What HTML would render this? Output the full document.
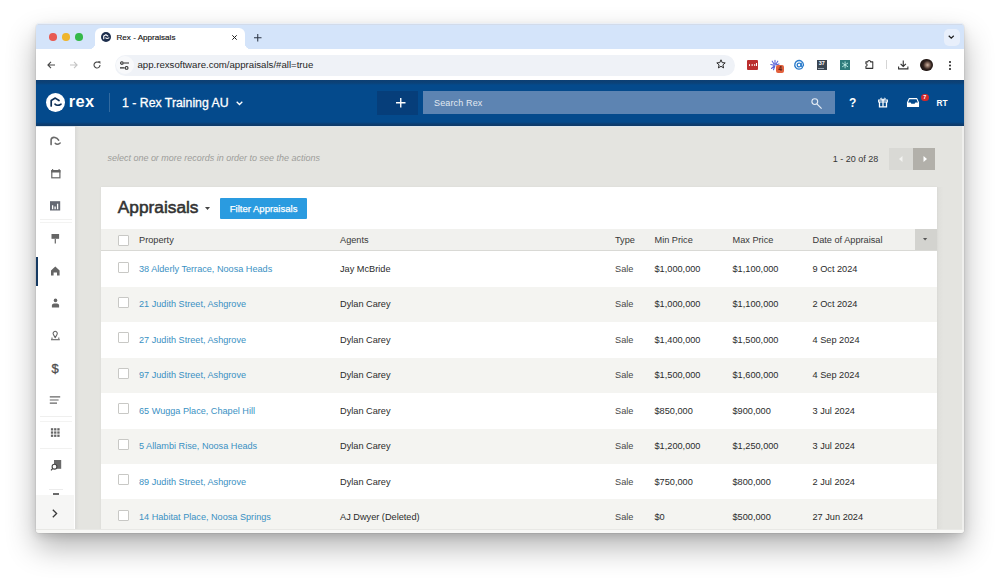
<!DOCTYPE html>
<html><head><meta charset="utf-8">
<style>
*{box-sizing:border-box;margin:0;padding:0}
html,body{width:1000px;height:581px;overflow:hidden;background:#fff;font-family:"Liberation Sans",sans-serif;position:relative}
.a{position:absolute}
.t{position:absolute;white-space:nowrap;line-height:1}
svg{position:absolute;overflow:visible}
.cb{width:11px;height:11px;border:1px solid #c8c8c5;background:#fff;border-radius:1px}
.th{font-size:9.2px;color:#383838}
.td{font-size:9.2px;color:#2b2b2b}
.lk{font-size:9.15px;color:#3a91c3}
</style></head><body>
<!-- window frame + shadow -->
<div class="a" style="left:36px;top:24px;width:927.8px;height:508.5px;border-radius:3.5px;background:#e6e6e3;box-shadow:0 0 0 1px rgba(0,0,0,.04),0 14px 30px rgba(0,0,0,.30),0 3px 8px rgba(0,0,0,.12)"></div>

<!-- TAB BAR -->
<div class="a" style="left:37px;top:22.6px;width:925.8px;height:1.4px;background:#eaeff7;border-radius:2px"></div>
<div class="a" style="left:36px;top:24px;width:927.8px;height:25px;background:#d4e4fa;border-radius:3.5px 3.5px 0 0"></div>
<div class="a" style="left:38px;top:24px;width:923.8px;height:1px;background:#d2dbea"></div>
<div class="a" style="left:49.3px;top:33.4px;width:7.6px;height:7.6px;border-radius:50%;background:#e85a52"></div>
<div class="a" style="left:62.2px;top:33.4px;width:7.6px;height:7.6px;border-radius:50%;background:#efb52c"></div>
<div class="a" style="left:75.1px;top:33.4px;width:7.6px;height:7.6px;border-radius:50%;background:#35b949"></div>
<!-- active tab -->
<div class="a" style="left:95px;top:28px;width:150px;height:21px;background:#fff;border-radius:6px 6px 0 0"></div>
<div class="a" style="left:89px;top:43px;width:6px;height:6px;background:radial-gradient(circle at 0 0,#d4e4fa 6px,#fff 6.5px)"></div>
<div class="a" style="left:245px;top:43px;width:6px;height:6px;background:radial-gradient(circle at 100% 0,#d4e4fa 6px,#fff 6.5px)"></div>
<!-- favicon -->
<div class="a" style="left:101px;top:32.2px;width:10px;height:10px;border-radius:50%;background:#1c2d4c"></div>
<svg style="left:101px;top:32.2px" width="10" height="10" viewBox="0 0 19 19"><path d="M5.2 12.9V7.4L9.3 5.1L13 7.5" stroke="#fff" stroke-width="2.2" fill="none" stroke-linejoin="round" stroke-linecap="round"/><path d="M9 11.1C10 12.2 12.6 12.6 15 11.2" stroke="#fff" stroke-width="2.1" fill="none" stroke-linecap="round"/></svg>
<div class="t" style="left:116.5px;top:33.8px;font-size:8.1px;color:#151515;-webkit-text-stroke:0.15px #151515">Rex - Appraisals</div>
<svg style="left:232px;top:35px" width="5" height="5" viewBox="0 0 5 5"><path d="M.3 .3L4.7 4.7M4.7 .3L.3 4.7" stroke="#1f1f1f" stroke-width="1"/></svg>
<svg style="left:253.8px;top:33.8px" width="7.5" height="7.5" viewBox="0 0 8 8"><path d="M4 0V8M0 4H8" stroke="#2b3445" stroke-width="1.1"/></svg>
<!-- chevron circle -->
<div class="a" style="left:943.8px;top:28.5px;width:16px;height:17px;border-radius:5px;background:#e8effb"></div>
<svg style="left:948.2px;top:35px" width="6.5" height="4" viewBox="0 0 7 4"><path d="M.8 .6L3.5 3.2L6.2 .6" stroke="#1f1f1f" stroke-width="1.3" fill="none"/></svg>

<!-- TOOLBAR -->
<div class="a" style="left:36px;top:49px;width:927.8px;height:31px;background:#fff"></div>
<svg style="left:46.5px;top:61px" width="8" height="8" viewBox="0 0 8 8"><path d="M8 4H1M4 .8L.9 4L4 7.2" stroke="#474747" stroke-width="1.1" fill="none"/></svg>
<svg style="left:69.5px;top:61px" width="8" height="8" viewBox="0 0 8 8"><path d="M0 4H7M4 .8L7.1 4L4 7.2" stroke="#c4c4c4" stroke-width="1.1" fill="none"/></svg>
<svg style="left:92.8px;top:61px" width="8" height="8" viewBox="0 0 8 8"><path d="M7 4A3 3 0 1 1 5.8 1.6" stroke="#474747" stroke-width="1.1" fill="none"/><path d="M4.6 .3H7.4V3.1Z" fill="#474747"/></svg>
<div class="a" style="left:114.5px;top:54.5px;width:620px;height:21px;border-radius:11px;background:#eff2f7"></div>
<div class="a" style="left:116px;top:56px;width:18px;height:18px;border-radius:50%;background:#f8f9fb"></div>
<svg style="left:119.8px;top:60.6px" width="9" height="9" viewBox="0 0 9 9"><path d="M3.6 2H9M0 6.9H4.6" stroke="#2b2b2b" stroke-width="1.1"/><circle cx="1.9" cy="2" r="1.3" stroke="#2b2b2b" stroke-width="1.1" fill="none"/><circle cx="6.6" cy="6.9" r="1.4" stroke="#2b2b2b" stroke-width="1.1" fill="none"/></svg>
<div class="t" style="left:137.5px;top:60px;font-size:9.65px;color:#1f1f1f">app.rexsoftware.com/appraisals/#all=true</div>
<svg style="left:715.5px;top:59px" width="10" height="10" viewBox="0 0 10 10"><path d="M5 .8L6.2 3.6L9.2 3.9L6.9 5.9L7.6 8.9L5 7.3L2.4 8.9L3.1 5.9L.8 3.9L3.8 3.6Z" stroke="#2b2b2b" stroke-width="1" fill="none" stroke-linejoin="round"/></svg>

<!-- extensions -->
<div class="a" style="left:747px;top:60px;width:10.8px;height:9.8px;background:#bb2e2e;border-radius:1px"></div>
<div class="a" style="left:748.8px;top:64px;width:1.6px;height:1.6px;background:#fff;border-radius:50%;box-shadow:2.6px 0 0 #fff,5.2px 0 0 #fff"></div>
<div class="a" style="left:756px;top:62.5px;width:1px;height:3.2px;background:#fff"></div>
<svg style="left:769px;top:59px" width="12" height="12" viewBox="0 0 12 12"><g stroke="#5a63d6" stroke-width="1.1" fill="none" stroke-linecap="round"><path d="M6 1.2V5M3.2 2.2L5.2 5.2M8.8 2.2L6.8 5.2M1.8 5.5L5 6.2M10 5L7 6M2.5 9.5L5.3 6.8M4.5 10.8L5.8 7"/></g></svg>
<div class="a" style="left:776.3px;top:64.8px;width:8.2px;height:8.7px;background:#e2603c;border-radius:2px"></div>
<div class="t" style="left:778.3px;top:66.3px;font-size:6.5px;font-weight:bold;color:#5a1a10">4</div>
<svg style="left:793.8px;top:60px" width="10.2" height="10" viewBox="0 0 10 10"><path d="M8.3 7.6A4.3 4.3 0 1 1 9.3 4.6V5.6C9.3 6.6 7.1 6.8 7.1 5.4V3.2" stroke="#2a7bcb" stroke-width="1.35" fill="none" stroke-linecap="round"/><circle cx="5" cy="5" r="1.9" stroke="#2a7bcb" stroke-width="1.3" fill="none"/></svg>
<div class="a" style="left:817px;top:60px;width:9.7px;height:9.8px;background:#3b4550"></div>
<div class="t" style="left:818.8px;top:61px;font-size:5.5px;font-weight:bold;color:#fff">37</div>
<div class="a" style="left:818px;top:67.5px;width:6px;height:.8px;background:#9aa3ad"></div>
<div class="a" style="left:840px;top:60px;width:10.2px;height:9.8px;background:#2d7b7b"></div>
<svg style="left:840px;top:60px" width="10.2" height="9.8" viewBox="0 0 10 10"><g stroke="#bfeee6" stroke-width=".9"><path d="M5 1.5V8.5M2 3L8 7M8 3L2 7"/></g></svg>
<svg style="left:863.5px;top:59px" width="10.5" height="10.5" viewBox="0 0 11 11"><path d="M2 3H4A1.4 1.4 0 0 1 6.8 3H9.2V9.8H2V7.6A1.3 1.3 0 0 0 2 5Z" stroke="#333" stroke-width="1.1" fill="none" stroke-linejoin="round"/></svg>
<div class="a" style="left:885.6px;top:60px;width:1px;height:9px;background:#d5d5d5"></div>
<svg style="left:898px;top:60px" width="10.5" height="9.5" viewBox="0 0 10.5 9.5"><path d="M5.25 .5V6.2M2.6 3.8L5.25 6.5L7.9 3.8M.6 6.4V8.9H9.9V6.4" stroke="#333" stroke-width="1.1" fill="none"/></svg>
<div class="a" style="left:920.2px;top:58.8px;width:12.6px;height:12.6px;border-radius:50%;background:radial-gradient(circle at 58% 50%,#cbb3a3 0,#8a6e60 20%,#2e201c 45%,#1c1412 75%,#4a4242 100%)"></div>
<div class="a" style="left:949.2px;top:61px;width:1.6px;height:1.6px;border-radius:50%;background:#333;box-shadow:0 3.5px 0 #333,0 7px 0 #333"></div>

<!-- HEADER -->
<div class="a" style="left:36px;top:80px;width:927.8px;height:46px;background:linear-gradient(#0d3f73 0,#0b4278 3px,#044a8c 5px,#044a8c 42px,#0c3e72 44px,#0e3a68 46px)"></div>
<div class="a" style="left:46.3px;top:93px;width:19px;height:19px;border-radius:50%;background:#fff"></div>
<svg style="left:46.3px;top:93px" width="19" height="19" viewBox="0 0 19 19"><path d="M5.2 12.9V7.4L9.3 5.1L13 7.5" stroke="#0b2d55" stroke-width="1.7" fill="none" stroke-linejoin="round" stroke-linecap="round"/><path d="M9 11.1C10 12.2 12.6 12.6 15 11.2" stroke="#0b2d55" stroke-width="1.6" fill="none" stroke-linecap="round"/></svg>
<div class="t" style="left:68.8px;top:93.3px;font-size:16.4px;font-weight:bold;color:#fff;letter-spacing:0.3px">rex</div>
<div class="a" style="left:109px;top:93px;width:1px;height:19px;background:rgba(255,255,255,.18)"></div>
<div class="t" style="left:122px;top:96.5px;font-size:12.3px;color:#fff;-webkit-text-stroke:0.3px #fff">1 - Rex Training AU</div>
<svg style="left:236px;top:101px" width="7" height="4.5" viewBox="0 0 7 4.5"><path d="M.7 .7L3.5 3.5L6.3 .7" stroke="#fff" stroke-width="1.3" fill="none"/></svg>
<div class="a" style="left:377px;top:90.5px;width:40.5px;height:24px;background:#063e7a"></div>
<svg style="left:395.5px;top:98px" width="9.5" height="9.5" viewBox="0 0 10 10"><path d="M5 0V10M0 5H10" stroke="#fff" stroke-width="1.45"/></svg>
<div class="a" style="left:422.5px;top:90.6px;width:412.5px;height:23.8px;background:#5d84b2"></div>
<div class="t" style="left:434px;top:99px;font-size:9px;color:#e2e9f1;letter-spacing:0.15px">Search Rex</div>
<svg style="left:810.5px;top:97.5px" width="12" height="12" viewBox="0 0 12 12"><circle cx="3.8" cy="3.6" r="2.9" stroke="#e6edf5" stroke-width="1.1" fill="none"/><path d="M5.9 5.8L10.6 10.6" stroke="#e6edf5" stroke-width="1.2"/></svg>
<div class="t" style="left:849px;top:97px;font-size:12px;font-weight:bold;color:#fff">?</div>
<svg style="left:878px;top:97px" width="10" height="10.5" viewBox="0 0 10 10.5"><path d="M.7 3H9.3V5H.7Z" stroke="#fff" stroke-width="1.2" fill="none"/><path d="M1.5 5V9.8H8.5V5" stroke="#fff" stroke-width="1.3" fill="none"/><path d="M5 3V9.8" stroke="#fff" stroke-width="1.3"/><path d="M5 3C4.2 1 2.6 .6 2.6 1.8C2.6 2.6 3.8 3 5 3C6.2 3 7.4 2.6 7.4 1.8C7.4 .6 5.8 1 5 3" stroke="#fff" stroke-width=".9" fill="none"/></svg>
<svg style="left:906.5px;top:98px" width="12" height="9" viewBox="0 0 12 9"><path d="M2.2 .6H9.8L11.5 4.5V8.5H.5V4.5Z" stroke="#fff" stroke-width="1.1" fill="none" stroke-linejoin="round"/><path d="M.5 4.5H3.6L4.4 5.8H7.6L8.4 4.5H11.5V8.5H.5Z" fill="#fff"/></svg>
<div class="a" style="left:921px;top:93.5px;width:7.6px;height:7.6px;border-radius:50%;background:#d3282a"></div>
<div class="t" style="left:923.2px;top:94.6px;font-size:5.5px;font-weight:bold;color:#fff">7</div>
<div class="t" style="left:936.5px;top:98.5px;font-size:8.3px;font-weight:bold;color:#fff">RT</div>

<!-- SIDEBAR -->
<div class="a" style="left:36px;top:126px;width:39px;height:406px;background:#fff;border-radius:0 0 0 3.5px"></div>
<div class="a" style="left:36px;top:495px;width:38px;height:37px;background:#f6f6f5;border-radius:0 0 0 3.5px"></div>
<!-- rex mark -->
<svg style="left:45px;top:132px" width="20" height="20" viewBox="0 0 20 20"><path d="M6.1 12.6V7.6C6.6 5.6 8.6 5.2 10 5.5C11.6 5.9 12.8 6.9 13.6 8.2" stroke="#6a6a6a" stroke-width="1.6" fill="none" stroke-linecap="round"/><path d="M10.2 11.3C11.3 12.5 13.3 12.6 15.2 11" stroke="#6a6a6a" stroke-width="1.5" fill="none" stroke-linecap="round"/></svg>
<!-- calendar -->
<svg style="left:45px;top:164px" width="20" height="20" viewBox="0 0 20 20"><rect x="6.8" y="6.6" width="8.1" height="7.2" stroke="#666" stroke-width="1.2" fill="none"/><rect x="6.2" y="6.2" width="9.2" height="2.3" fill="#666"/><path d="M7.6 5V6.5M14.1 5V6.5" stroke="#666" stroke-width="1.1"/></svg>
<!-- chart -->
<svg style="left:45px;top:196px" width="20" height="20" viewBox="0 0 20 20"><rect x="5" y="5.2" width="10.2" height="9.3" fill="#646873"/><path d="M7.6 13.2V9.3M10.1 13.2V10.6M12.6 13.2V7.8" stroke="#fff" stroke-width="1.3"/></svg>
<div class="a" style="left:40px;top:218.6px;width:32px;height:1px;background:#f1f1f0"></div>
<div class="a" style="left:40px;top:222.2px;width:32px;height:1px;background:#f3f3f2"></div>
<!-- sign -->
<svg style="left:45px;top:228px" width="20" height="20" viewBox="0 0 20 20"><rect x="6.5" y="6" width="7.6" height="4.8" fill="#656565"/><path d="M10.3 11V15.4" stroke="#656565" stroke-width="1.2"/></svg>
<!-- active indicator -->
<div class="a" style="left:36px;top:257px;width:2.2px;height:29px;background:#163a62"></div>
<!-- house -->
<svg style="left:45px;top:261px" width="20" height="20" viewBox="0 0 20 20"><path d="M10.3 5.6L14.6 9.6V14.6H12V11.6H8.6V14.6H6V9.6Z" fill="#656565"/></svg>
<!-- person -->
<svg style="left:45px;top:293px" width="20" height="20" viewBox="0 0 20 20"><circle cx="10.5" cy="7.4" r="1.8" fill="#656565"/><path d="M6.9 14.6V12.4C6.9 11.2 8 10.6 10.5 10.6C13 10.6 14.1 11.2 14.1 12.4V14.6Z" fill="#656565"/></svg>
<!-- pin -->
<svg style="left:45px;top:326px" width="20" height="20" viewBox="0 0 20 20"><path d="M10.2 11.6L8.4 8.5A2.1 2.1 0 1 1 12 8.5Z" stroke="#656565" stroke-width="1.1" fill="none" stroke-linejoin="round"/><path d="M6 13.7H14.8" stroke="#656565" stroke-width="1.1"/><path d="M7 11.5V13M13.8 11.5V13" stroke="#656565" stroke-width="1"/></svg>
<div class="t" style="left:51.6px;top:362px;font-size:13px;color:#4e4e4e;-webkit-text-stroke:0.3px #4e4e4e">$</div>
<!-- list -->
<svg style="left:45px;top:390px" width="20" height="20" viewBox="0 0 20 20"><path d="M4.8 6.9H15.2M4.8 10H13.6M4.8 13.1H12" stroke="#666" stroke-width="1.1"/></svg>
<div class="a" style="left:40px;top:416px;width:32px;height:1px;background:#efefee"></div>
<div class="a" style="left:40px;top:420.5px;width:32px;height:1px;background:#f3f3f2"></div>
<div class="a" style="left:40px;top:448px;width:32px;height:1px;background:#f1f1f0"></div>
<!-- grid -->
<svg style="left:45px;top:422px" width="20" height="20" viewBox="0 0 20 20"><g fill="#666"><rect x="5.9" y="6.2" width="2.3" height="2.3"/><rect x="9.1" y="6.2" width="2.3" height="2.3"/><rect x="12.3" y="6.2" width="2.3" height="2.3"/><rect x="5.9" y="9.4" width="2.3" height="2.3"/><rect x="9.1" y="9.4" width="2.3" height="2.3"/><rect x="12.3" y="9.4" width="2.3" height="2.3"/><rect x="5.9" y="12.6" width="2.3" height="2.3"/><rect x="9.1" y="12.6" width="2.3" height="2.3"/><rect x="12.3" y="12.6" width="2.3" height="2.3"/></g></svg>
<!-- property search -->
<svg style="left:45px;top:455px" width="20" height="20" viewBox="0 0 20 20"><rect x="9" y="5" width="7.2" height="8.8" fill="#6a6a6a"/><circle cx="9.5" cy="11.7" r="2.4" fill="#fff" stroke="#444" stroke-width="1.1"/><path d="M7.8 13.4L6 15.3" stroke="#444" stroke-width="1.2"/></svg>
<div class="a" style="left:52.5px;top:493.4px;width:6.2px;height:1.3px;background:#6a6a6a"></div>
<div class="a" style="left:49px;top:488.5px;width:14px;height:1px;background:#ececec"></div>
<svg style="left:51px;top:509px" width="8" height="9" viewBox="0 0 8 9"><path d="M1.8 .8L5.6 4.5L1.8 8.2" stroke="#3a3a3a" stroke-width="1.3" fill="none"/></svg>

<!-- MAIN -->
<div class="a" style="left:75px;top:126px;width:888.8px;height:406px;background:#e4e4e0;border-radius:0 0 3.5px 0"></div>
<div class="a" style="left:36px;top:126px;width:927.8px;height:1px;background:#dbe6ee"></div>
<div class="a" style="left:75px;top:126px;width:4px;height:406px;background:linear-gradient(90deg,#d9d9d7,rgba(228,228,224,0))"></div>
<div class="a" style="left:101px;top:187px;width:836px;height:345px;background:#fff;box-shadow:0 0 2px rgba(0,0,0,.06)"></div>
<div class="a" style="left:937px;top:187px;width:7px;height:342px;background:linear-gradient(90deg,rgba(0,0,0,.025),rgba(0,0,0,0))"></div>
<div class="t" style="left:107.5px;top:154.3px;font-size:8.97px;font-style:italic;color:#9d9d9a">select one or more records in order to see the actions</div>
<div class="t" style="left:832.8px;top:155.2px;font-size:9px;color:#363636">1 - 20 of 28</div>
<div class="a" style="left:888.6px;top:148px;width:24.4px;height:22px;background:#d9d9d5"></div>
<div class="a" style="left:913px;top:148px;width:21.8px;height:22px;background:#b2b0aa"></div>
<svg style="left:898.5px;top:156px" width="4" height="6" viewBox="0 0 4 6"><path d="M3.5 0V6L0 3Z" fill="#f2f2f0"/></svg>
<svg style="left:922.5px;top:156px" width="4" height="6" viewBox="0 0 4 6"><path d="M.5 0V6L4 3Z" fill="#fff"/></svg>
<!-- card header -->
<div class="t" style="left:117.8px;top:198.5px;font-size:17.3px;color:#333;-webkit-text-stroke:0.55px #333">Appraisals</div>
<svg style="left:204.5px;top:206.5px" width="5" height="3" viewBox="0 0 5 3"><path d="M0 0H5L2.5 3Z" fill="#444"/></svg>
<div class="a" style="left:220px;top:197.5px;width:87px;height:21px;background:#2a9be0;border-radius:1px"></div>
<div class="t" style="left:229.8px;top:204.3px;font-size:9.5px;color:#fff;-webkit-text-stroke:0.25px #fff">Filter Appraisals</div>
<!-- TABLE START -->
<div class="a" style="left:101px;top:229px;width:836px;height:21.6px;background:#f1f1ee;border-bottom:1px solid #d9d9d5"></div>
<div class="a" style="left:915px;top:229px;width:22px;height:21px;background:#d3d3cf"></div>
<svg style="left:922.8px;top:238.4px" width="4.2" height="2.6" viewBox="0 0 5 3"><path d="M0 0H5L2.5 3Z" fill="#555"/></svg>
<div class="a cb" style="left:117.5px;top:234.5px"></div>
<div class="t th" style="left:139px;top:235.5px">Property</div>
<div class="t th" style="left:340px;top:235.5px">Agents</div>
<div class="t th" style="left:615px;top:235.5px">Type</div>
<div class="t th" style="left:654.5px;top:235.5px">Min Price</div>
<div class="t th" style="left:732.5px;top:235.5px">Max Price</div>
<div class="t th" style="left:812.5px;top:235.5px">Date of Appraisal</div>
<div class="a cb" style="left:117.6px;top:261.6px"></div>
<div class="t lk" style="left:139px;top:265.0px">38 Alderly Terrace, Noosa Heads</div>
<div class="t td" style="left:340px;top:265.0px">Jay McBride</div>
<div class="t td" style="left:615px;top:265.0px;color:#474747">Sale</div>
<div class="t td" style="left:654.5px;top:265.0px">$1,000,000</div>
<div class="t td" style="left:732.5px;top:265.0px">$1,100,000</div>
<div class="t td" style="left:812.5px;top:265.0px">9 Oct 2024</div>
<div class="a" style="left:101px;top:286.9px;width:836px;height:35.4px;background:#f4f4f1"></div>
<div class="a cb" style="left:117.6px;top:297.0px"></div>
<div class="t lk" style="left:139px;top:300.4px">21 Judith Street, Ashgrove</div>
<div class="t td" style="left:340px;top:300.4px">Dylan Carey</div>
<div class="t td" style="left:615px;top:300.4px;color:#474747">Sale</div>
<div class="t td" style="left:654.5px;top:300.4px">$1,000,000</div>
<div class="t td" style="left:732.5px;top:300.4px">$1,100,000</div>
<div class="t td" style="left:812.5px;top:300.4px">2 Oct 2024</div>
<div class="a cb" style="left:117.6px;top:332.4px"></div>
<div class="t lk" style="left:139px;top:335.8px">27 Judith Street, Ashgrove</div>
<div class="t td" style="left:340px;top:335.8px">Dylan Carey</div>
<div class="t td" style="left:615px;top:335.8px;color:#474747">Sale</div>
<div class="t td" style="left:654.5px;top:335.8px">$1,400,000</div>
<div class="t td" style="left:732.5px;top:335.8px">$1,500,000</div>
<div class="t td" style="left:812.5px;top:335.8px">4 Sep 2024</div>
<div class="a" style="left:101px;top:357.8px;width:836px;height:35.4px;background:#f4f4f1"></div>
<div class="a cb" style="left:117.6px;top:367.9px"></div>
<div class="t lk" style="left:139px;top:371.3px">97 Judith Street, Ashgrove</div>
<div class="t td" style="left:340px;top:371.3px">Dylan Carey</div>
<div class="t td" style="left:615px;top:371.3px;color:#474747">Sale</div>
<div class="t td" style="left:654.5px;top:371.3px">$1,500,000</div>
<div class="t td" style="left:732.5px;top:371.3px">$1,600,000</div>
<div class="t td" style="left:812.5px;top:371.3px">4 Sep 2024</div>
<div class="a cb" style="left:117.6px;top:403.3px"></div>
<div class="t lk" style="left:139px;top:406.7px">65 Wugga Place, Chapel Hill</div>
<div class="t td" style="left:340px;top:406.7px">Dylan Carey</div>
<div class="t td" style="left:615px;top:406.7px;color:#474747">Sale</div>
<div class="t td" style="left:654.5px;top:406.7px">$850,000</div>
<div class="t td" style="left:732.5px;top:406.7px">$900,000</div>
<div class="t td" style="left:812.5px;top:406.7px">3 Jul 2024</div>
<div class="a" style="left:101px;top:428.6px;width:836px;height:35.4px;background:#f4f4f1"></div>
<div class="a cb" style="left:117.6px;top:438.7px"></div>
<div class="t lk" style="left:139px;top:442.1px">5 Allambi Rise, Noosa Heads</div>
<div class="t td" style="left:340px;top:442.1px">Dylan Carey</div>
<div class="t td" style="left:615px;top:442.1px;color:#474747">Sale</div>
<div class="t td" style="left:654.5px;top:442.1px">$1,200,000</div>
<div class="t td" style="left:732.5px;top:442.1px">$1,250,000</div>
<div class="t td" style="left:812.5px;top:442.1px">3 Jul 2024</div>
<div class="a cb" style="left:117.6px;top:474.1px"></div>
<div class="t lk" style="left:139px;top:477.5px">89 Judith Street, Ashgrove</div>
<div class="t td" style="left:340px;top:477.5px">Dylan Carey</div>
<div class="t td" style="left:615px;top:477.5px;color:#474747">Sale</div>
<div class="t td" style="left:654.5px;top:477.5px">$750,000</div>
<div class="t td" style="left:732.5px;top:477.5px">$800,000</div>
<div class="t td" style="left:812.5px;top:477.5px">2 Jul 2024</div>
<div class="a" style="left:101px;top:499.4px;width:836px;height:33.1px;background:#f4f4f1"></div>
<div class="a cb" style="left:117.6px;top:509.5px"></div>
<div class="t lk" style="left:139px;top:512.9px">14 Habitat Place, Noosa Springs</div>
<div class="t td" style="left:340px;top:512.9px">AJ Dwyer (Deleted)</div>
<div class="t td" style="left:615px;top:512.9px;color:#474747">Sale</div>
<div class="t td" style="left:654.5px;top:512.9px">$0</div>
<div class="t td" style="left:732.5px;top:512.9px">$500,000</div>
<div class="t td" style="left:812.5px;top:512.9px">27 Jun 2024</div>
<!-- TABLE END -->
<!-- window inner frame -->
<div class="a" style="left:36px;top:528.8px;width:927.8px;height:1px;background:#e8e8e5"></div>
<div class="a" style="left:36px;top:529.8px;width:927.8px;height:2.8px;background:#f8f8f6;border-radius:0 0 3.5px 3.5px"></div>
<div class="a" style="left:962px;top:126px;width:1.8px;height:404px;background:#efefed"></div>
</body></html>
